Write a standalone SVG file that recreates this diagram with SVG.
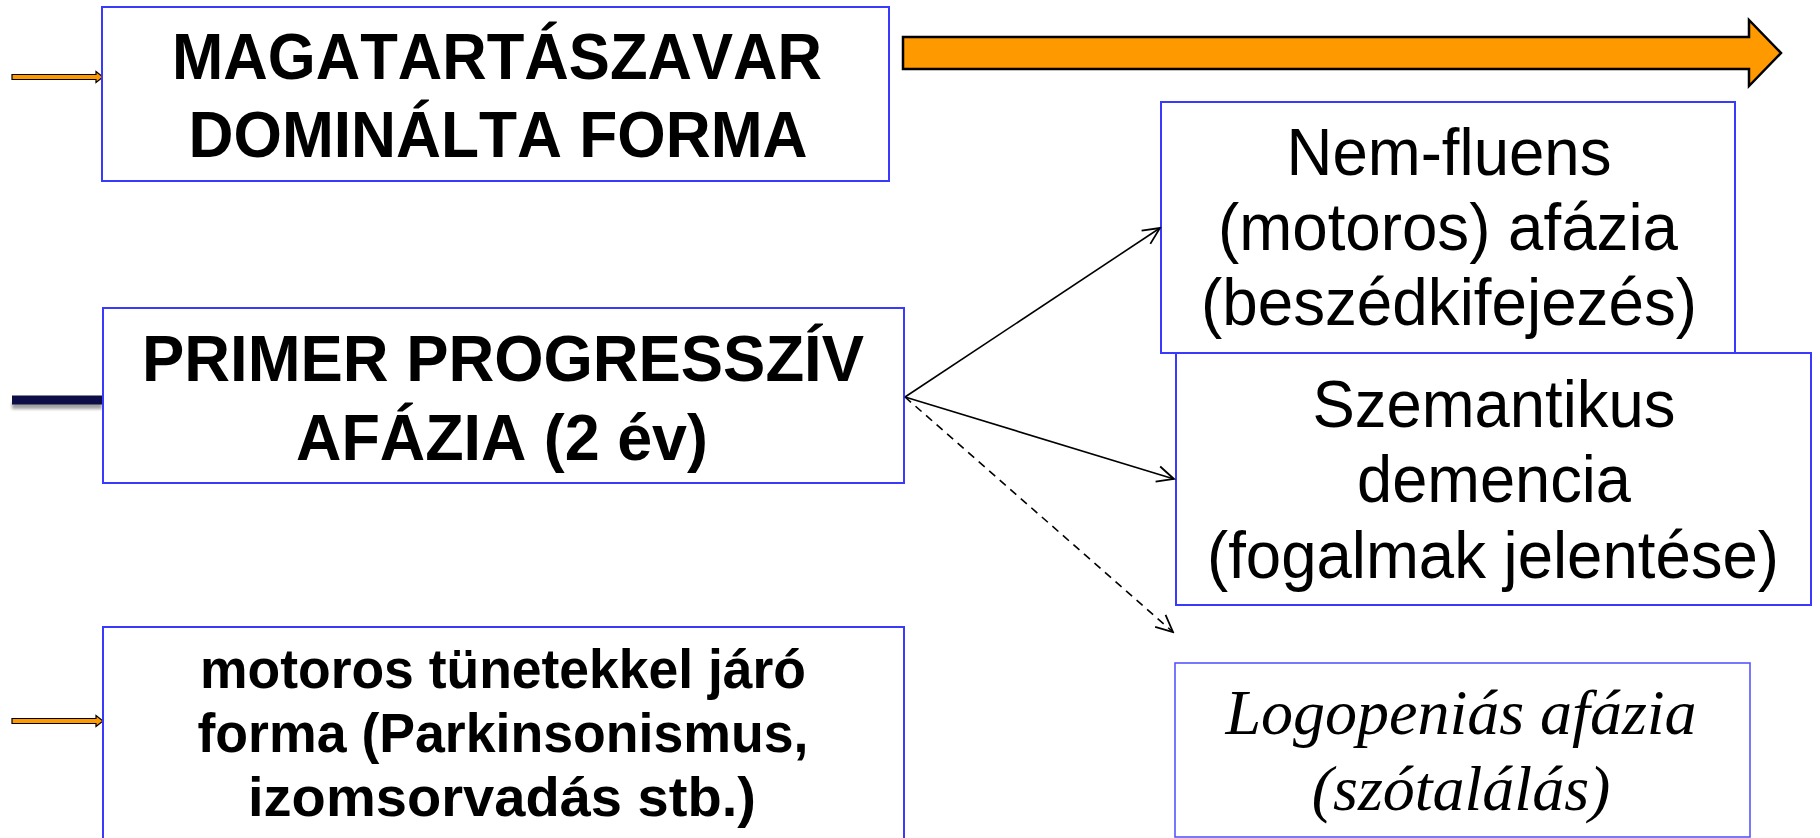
<svg xmlns="http://www.w3.org/2000/svg" width="1820" height="838" viewBox="0 0 1820 838">
<style>
.box{fill:#fff;stroke:#3a3aff;stroke-width:2}
.bold{font-family:"Liberation Sans",Arial,sans-serif;font-weight:bold;font-size:65px;fill:#000;text-anchor:middle;font-kerning:none}
.reg{font-family:"Liberation Sans",Arial,sans-serif;font-size:66px;fill:#000;text-anchor:middle;font-kerning:none}
.small{font-family:"Liberation Sans",Arial,sans-serif;font-weight:bold;font-size:56px;fill:#000;text-anchor:middle;font-kerning:none}
.ital{font-family:"Liberation Serif","Times New Roman",serif;font-style:italic;font-size:64px;fill:#000;text-anchor:middle;font-kerning:none}
.conn{stroke:#000;stroke-width:1.6;fill:none}
.orange{fill:#ff9900;stroke:#000}
</style>
<defs>
<marker id="open" markerUnits="userSpaceOnUse" markerWidth="20" markerHeight="20" viewBox="-17 -9 19 18" refX="0" refY="0" orient="auto">
<path d="M-16,-7.5 L0,0 L-16,7.5" fill="none" stroke="#000" stroke-width="1.7"/>
</marker>
<filter id="sh" x="-10%" y="-100%" width="120%" height="300%"><feGaussianBlur stdDeviation="1.5"/></filter>
</defs>
<rect width="1820" height="838" fill="#fff"/>

<g id="side-arrows">
<path class="orange" stroke-width="1.2" d="M12,74.5 H96 V71.5 L103,77 L96,82.5 V79.5 H12 Z"/>
<path class="orange" stroke-width="1.2" d="M12,718.5 H96 V715.5 L103,721 L96,726.5 V723.5 H12 Z"/>
<rect x="12" y="402" width="90" height="7" fill="#555" opacity="0.55" filter="url(#sh)"/>
<rect x="12" y="395.5" width="91" height="9" fill="#0d0d48"/>
</g>

<g id="big-arrow">
<path class="orange" stroke-width="2.5" d="M903,37 H1749 V20 L1781,53 L1749,86 V69 H903 Z"/>
</g>

<g id="node-magatartas">
<rect class="box" x="102" y="7" width="787" height="174"/>
<text class="bold" x="497" y="79" textLength="650" lengthAdjust="spacingAndGlyphs">MAGATARTÁSZAVAR</text>
<text class="bold" x="498" y="157" textLength="619" lengthAdjust="spacingAndGlyphs">DOMINÁLTA FORMA</text>
</g>

<g id="node-ppa">
<rect class="box" x="103" y="308" width="801" height="175"/>
<text class="bold" x="503" y="381" textLength="722" lengthAdjust="spacingAndGlyphs">PRIMER PROGRESSZÍV</text>
<text class="bold" x="502" y="460" textLength="412" lengthAdjust="spacingAndGlyphs">AFÁZIA (2 év)</text>
</g>

<g id="node-motoros">
<rect class="box" x="103" y="627" width="801" height="220"/>
<text class="small" x="503" y="688" textLength="606" lengthAdjust="spacingAndGlyphs">motoros tünetekkel járó</text>
<text class="small" x="503" y="752" textLength="611" lengthAdjust="spacingAndGlyphs">forma (Parkinsonismus,</text>
<text class="small" x="502" y="816" textLength="508" lengthAdjust="spacingAndGlyphs">izomsorvadás stb.)</text>
</g>

<g id="node-nemfluens">
<rect class="box" x="1161" y="102" width="574" height="251"/>
<text class="reg" x="1449" y="175" textLength="325" lengthAdjust="spacingAndGlyphs">Nem-fluens</text>
<text class="reg" x="1448" y="250" textLength="460" lengthAdjust="spacingAndGlyphs">(motoros) afázia</text>
<text class="reg" x="1449" y="325" textLength="496" lengthAdjust="spacingAndGlyphs">(beszédkifejezés)</text>
</g>

<g id="node-szemantikus">
<rect class="box" x="1176" y="353" width="635" height="252"/>
<text class="reg" x="1494" y="427" textLength="363" lengthAdjust="spacingAndGlyphs">Szemantikus</text>
<text class="reg" x="1494" y="502" textLength="274" lengthAdjust="spacingAndGlyphs">demencia</text>
<text class="reg" x="1493" y="578" textLength="572" lengthAdjust="spacingAndGlyphs">(fogalmak jelentése)</text>
</g>

<g id="node-logopenias">
<rect class="box" x="1175" y="663" width="575" height="174" style="stroke:#5555ff;stroke-width:1.6"/>
<text class="ital" x="1461" y="734">Logopeniás afázia</text>
<text class="ital" x="1461" y="810">(szótalálás)</text>
</g>

<g id="connectors">
<line class="conn" x1="905" y1="397" x2="1160" y2="228" marker-end="url(#open)"/>
<line class="conn" x1="905" y1="397" x2="1174" y2="479" marker-end="url(#open)"/>
<line class="conn" x1="905" y1="397" x2="1173" y2="632" stroke-dasharray="8,6" marker-end="url(#open)"/>
</g>
</svg>
